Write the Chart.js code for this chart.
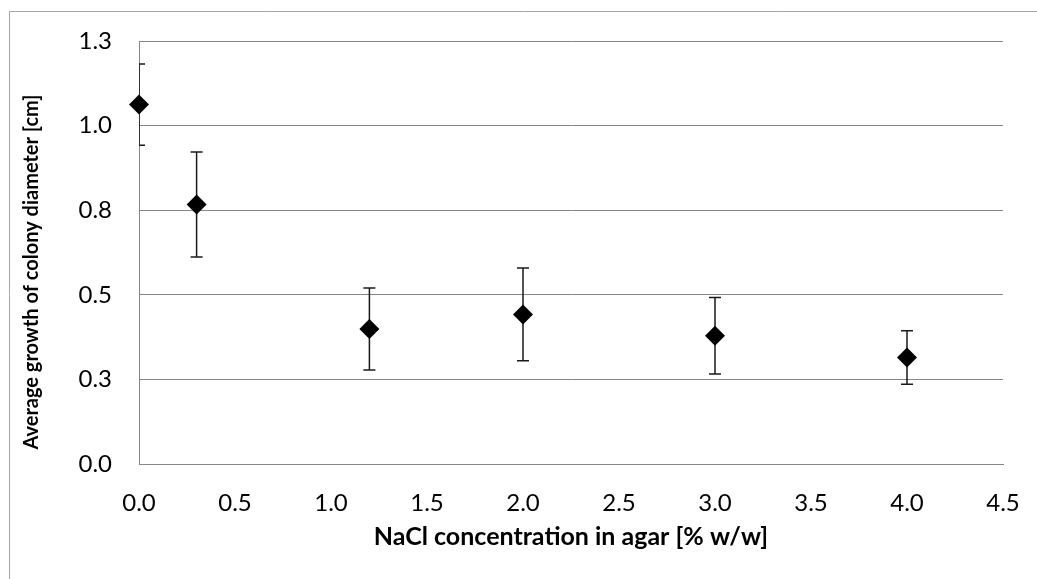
<!DOCTYPE html>
<html>
<head>
<meta charset="utf-8">
<script src="https://cdn.jsdelivr.net/npm/chart.js@4/dist/chart.umd.min.js"></script>
<style>
  html, body { margin: 0; padding: 0; background: #fff; }
  #wrap { position: relative; width: 1037px; height: 579px; }
</style>
</head>
<body>
<div id="wrap"><canvas id="c" width="1037" height="579"></canvas></div>
<script>
// ---- data ----
const concentrations = [0, 0.3, 1.2, 2.0, 3.0, 4.0];
const growth = [1.062, 0.767, 0.399, 0.442, 0.379, 0.315];
const errors = [0.12, 0.155, 0.121, 0.137, 0.113, 0.079];
const xTitle = 'NaCl concentration in agar [% w/w]';
const yTitle = 'Average growth of colony diameter [cm]';

const FONT = 'Lato, "Open Sans", sans-serif';

const frame = {
  id: 'frame',
  beforeDraw(chart) {
    const ctx = chart.ctx;
    ctx.save();
    ctx.strokeStyle = '#a6a6a6';
    ctx.lineWidth = 1;
    ctx.beginPath();
    ctx.moveTo(9.5, 579);
    ctx.lineTo(9.5, 11.5);
    ctx.lineTo(1037, 11.5);
    ctx.stroke();
    ctx.restore();
  }
};

const errorBars = {
  id: 'errorBars',
  beforeDatasetsDraw(chart) {
    const ctx = chart.ctx;
    const xs = chart.scales.x, ys = chart.scales.y;
    const area = chart.chartArea;
    ctx.save();
    ctx.beginPath();
    ctx.rect(area.left, 0, chart.width, chart.height);
    ctx.clip();
    ctx.strokeStyle = '#1a1a1a';
    ctx.lineWidth = 1.5;
    const cap = 6;
    concentrations.forEach((c, i) => {
      const px = xs.getPixelForValue(c);
      const top = ys.getPixelForValue(growth[i] + errors[i]);
      const bot = ys.getPixelForValue(growth[i] - errors[i]);
      ctx.beginPath();
      ctx.moveTo(px, top); ctx.lineTo(px, bot);
      ctx.moveTo(px - cap, top); ctx.lineTo(px + cap, top);
      ctx.moveTo(px - cap, bot); ctx.lineTo(px + cap, bot);
      ctx.stroke();
    });
    ctx.restore();
  }
};

const yTitlePlugin = {
  id: 'yTitlePlugin',
  afterDraw(chart) {
    const ctx = chart.ctx;
    ctx.save();
    ctx.translate(32, 272);
    ctx.rotate(-Math.PI / 2);
    ctx.font = 'bold 20px ' + FONT;
    ctx.fillStyle = '#000';
    ctx.textAlign = 'center';
    ctx.textBaseline = 'middle';
    ctx.fillText(yTitle, 0, 0);
    ctx.restore();
  }
};

new Chart(document.getElementById('c'), {
  type: 'scatter',
  data: {
    datasets: [{
      data: concentrations.map((c, i) => ({ x: c, y: growth[i] })),
      pointStyle: 'rectRot',
      pointRadius: 10,
      pointHoverRadius: 10,
      backgroundColor: '#000',
      borderColor: '#000',
      borderWidth: 0,
      clip: false
    }]
  },
  options: {
    responsive: false,
    animation: false,
    events: [],
    layout: { padding: { left: 0, top: 41, right: 34, bottom: 0 } },
    plugins: { legend: { display: false }, tooltip: { enabled: false } },
    scales: {
      x: {
        type: 'linear',
        min: 0, max: 4.5,
        afterFit(s) { s.height = 115; s.paddingLeft = 0; s.paddingRight = 0; },
        ticks: {
          stepSize: 0.5,
          padding: 25,
          color: '#000',
          font: { family: FONT, size: 24 },
          callback: v => Number(v).toFixed(1),
          maxRotation: 0
        },
        grid: { display: false, drawTicks: false },
        border: { display: true, color: '#868686', width: 1 },
        title: {
          display: true,
          text: xTitle,
          color: '#000',
          font: { family: FONT, size: 25, weight: 'bold' },
          padding: { top: 0, bottom: 27 }
        }
      },
      y: {
        type: 'linear',
        min: 0, max: 1.25,
        afterFit(s) { s.width = 139; s.paddingTop = 0; s.paddingBottom = 0; },
        ticks: {
          stepSize: 0.25,
          padding: 27,
          color: '#000',
          font: { family: FONT, size: 24 },
          callback: v => Number(v).toFixed(1)
        },
        grid: { color: '#868686', lineWidth: 1, drawTicks: false },
        border: { display: true, color: '#868686', width: 1 }
      }
    }
  },
  plugins: [frame, errorBars, yTitlePlugin]
});
</script>
</body>
</html>
